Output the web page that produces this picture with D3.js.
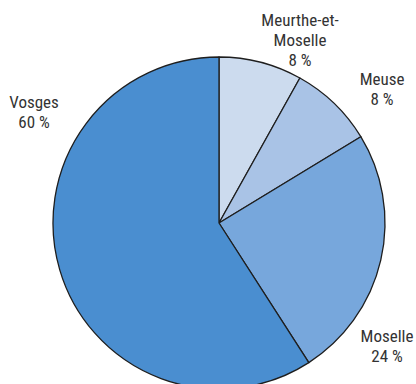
<!DOCTYPE html>
<html><head><meta charset="utf-8">
<script src="https://cdn.jsdelivr.net/npm/d3@7"></script>
<style>
html,body{margin:0;padding:0;background:#fff;}
svg{display:block;}
text{font-family:"Liberation Sans Narrow","Roboto Condensed","Liberation Sans",sans-serif;font-size:17px;fill:#333;}
</style></head>
<body>
<svg id="chart" width="416" height="384"></svg>
<script>
// Data
const departments = ["Meurthe-et-Moselle", "Meuse", "Moselle", "Vosges"];
const labelLines = [["Meurthe-et-", "Moselle"], ["Meuse"], ["Moselle"], ["Vosges"]];
const shares = [8.1, 8.2, 24.6, 59.1];
const shareLabels = ["8 %", "8 %", "24 %", "60 %"];
const colors = ["#ccdbee", "#a9c3e6", "#77a7dc", "#4a8ed0"];

// Layout
const W = 416, H = 384;
const cx = 219, cy = 223, R = 166;
// label anchor offsets from pie centre (centre x, first baseline y)
const labelOffsets = [[81, -197], [163, -138], [168, 119], [-185, -115]];
const lineH = 20;

const svg = d3.select("#chart");
const g = svg.append("g").attr("transform", `translate(${cx},${cy})`);

const pie = d3.pie().sort(null).value(d => d.v);
const arc = d3.arc().innerRadius(0).outerRadius(R);
const data = departments.map((d, i) => ({name: d, v: shares[i], i}));

g.selectAll("path").data(pie(data)).join("path")
  .attr("d", arc)
  .attr("fill", d => colors[d.data.i])
  .attr("stroke", "#1e1e1e")
  .attr("stroke-width", 1.3)
  .attr("stroke-linejoin", "round");

const lbl = g.selectAll("text.lbl").data(data).join("text")
  .attr("class", "lbl")
  .attr("text-anchor", "middle")
  .attr("x", d => labelOffsets[d.i][0])
  .attr("y", d => labelOffsets[d.i][1]);
lbl.each(function(d) {
  const t = d3.select(this);
  const lines = labelLines[d.i].concat([shareLabels[d.i]]);
  lines.forEach((s, k) => {
    t.append("tspan").attr("x", labelOffsets[d.i][0]).attr("dy", k === 0 ? 0 : lineH).text(s);
  });
});
</script>
</body></html>
